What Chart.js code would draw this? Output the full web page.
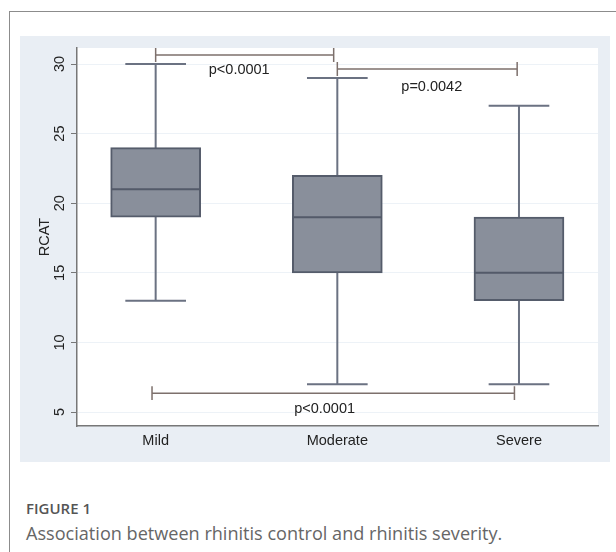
<!DOCTYPE html>
<html>
<head>
<meta charset="utf-8">
<script src="https://cdn.jsdelivr.net/npm/chart.js@4.4.1/dist/chart.umd.min.js"></script>
<style>
  body { margin: 0; background: #fff; width: 616px; height: 552px; overflow: hidden; position: relative; font-family: 'Open Sans', sans-serif; }
  #frame { position: absolute; left: 9px; top: 11px; right: 0; bottom: 0; border-left: 1.5px solid #8c8c8c; border-top: 1.5px solid #8c8c8c; }
  #panel { position: absolute; left: 20px; top: 36px; width: 590px; height: 426px; background: #e9eef4; }
  #fig { position: absolute; left: 26px; top: 501px; font-size: 15px; line-height: 15px; font-weight: 600; color: #555; }
  #caption { position: absolute; left: 26px; top: 524px; font-size: 18.1px; line-height: 18px; color: #666; white-space: nowrap; }
</style>
</head>
<body>
<div id="frame"></div>
<div id="panel"><canvas id="boxChart"></canvas></div>
<div id="fig">FIGURE 1</div>
<div id="caption">Association between rhinitis control and rhinitis severity.</div>
<script>
// values
const categories = ['Mild', 'Moderate', 'Severe'];
const whiskerLow = [13, 7, 7];
const q1 = [19, 15, 13];
const median = [21, 19, 15];
const q3 = [24, 22, 19];
const whiskerHigh = [30, 29, 27];
const yTicks = [5, 10, 15, 20, 25, 30];

// significance brackets (data coords)
const bracketFrom = [1, 2, 0.98];
const bracketTo = [1.98, 2.99, 2.975];
const bracketY = [30.65, 29.64, 6.36];
const pLabels = ['p<0.0001', 'p=0.0042', 'p<0.0001'];
const pLabelX = [1.46, 2.52, 1.93];
const pLabelY = [29.57, 28.33, 5.22];

const capHalf = 0.167;
const boxHalf = 0.245;
const bracketTick = 0.5;

Chart.defaults.font.family = '"Liberation Sans", Arial, sans-serif';

let boxData = [];
let whiskerData = [];
let medianData = [];
categories.forEach((c, i) => {
    let x = i + 1;
    boxData.push({x: x, y: [q1[i], q3[i]]});
    whiskerData.push({x: x, y: whiskerLow[i]}, {x: x, y: whiskerHigh[i]}, {x: x, y: null});
    whiskerData.push({x: x - capHalf, y: whiskerLow[i]}, {x: x + capHalf, y: whiskerLow[i]}, {x: x, y: null});
    whiskerData.push({x: x - capHalf, y: whiskerHigh[i]}, {x: x + capHalf, y: whiskerHigh[i]}, {x: x, y: null});
    medianData.push({x: x - boxHalf, y: median[i]}, {x: x + boxHalf, y: median[i]}, {x: x, y: null});
});

let bracketData = [];
bracketY.forEach((yv, i) => {
    let a = bracketFrom[i], b = bracketTo[i];
    bracketData.push({x: a, y: yv + bracketTick}, {x: a, y: yv - bracketTick}, {x: a, y: null});
    bracketData.push({x: a, y: yv}, {x: b, y: yv}, {x: b, y: null});
    bracketData.push({x: b, y: yv + bracketTick}, {x: b, y: yv - bracketTick}, {x: b, y: null});
});

const decorPlugin = {
    id: 'decor',
    beforeDraw(chart) {
        const {ctx, chartArea: a} = chart;
        ctx.save();
        ctx.fillStyle = '#fff';
        ctx.fillRect(a.left, a.top, a.right - a.left, a.bottom - a.top);
        ctx.restore();
    },
    afterDraw(chart) {
        const {ctx, chartArea: a, scales: {x, y}} = chart;
        ctx.save();
        ctx.fillStyle = '#222';
        ctx.font = '14.5px "Liberation Sans", Arial, sans-serif';
        ctx.textAlign = 'center';
        ctx.textBaseline = 'middle';
        // rotated y tick labels, Stata style
        yTicks.forEach(v => {
            ctx.save();
            ctx.translate(a.left - 17, y.getPixelForValue(v));
            ctx.rotate(-Math.PI / 2);
            ctx.fillText(String(v), 0, 0);
            ctx.restore();
        });
        pLabels.forEach((t, i) => {
            ctx.fillText(t, x.getPixelForValue(pLabelX[i]), y.getPixelForValue(pLabelY[i]));
        });
        ctx.restore();
    }
};

let chart = new Chart(document.getElementById('boxChart'), {
    type: 'bar',
    data: {
        datasets: [
            {
                type: 'line',
                data: medianData,
                borderColor: '#535a69',
                borderWidth: 2,
                pointRadius: 0,
                spanGaps: false,
                order: 1
            },
            {
                type: 'line',
                data: bracketData,
                borderColor: '#7d706c',
                borderWidth: 1.5,
                pointRadius: 0,
                spanGaps: false,
                order: 1
            },
            {
                type: 'bar',
                data: boxData,
                backgroundColor: '#898f9b',
                borderColor: '#555c6b',
                borderWidth: 2,
                borderSkipped: false,
                barThickness: 90,
                order: 2
            },
            {
                type: 'line',
                data: whiskerData,
                borderColor: '#6b7282',
                borderWidth: 2,
                pointRadius: 0,
                spanGaps: false,
                order: 3
            }
        ]
    },
    options: {
        responsive: true,
        maintainAspectRatio: false,
        animation: false,
        devicePixelRatio: 1,
        layout: {padding: {left: 0, right: 12, top: 12, bottom: 0}},
        plugins: {legend: {display: false}, tooltip: {enabled: false}},
        scales: {
            x: {
                type: 'linear',
                offset: false,
                min: 0.567,
                max: 3.435,
                afterBuildTicks: s => { s.ticks = categories.map((c, i) => ({value: i + 1})); },
                afterFit: s => { s.height = 36; },
                ticks: {
                    callback: v => categories[v - 1],
                    font: {size: 14.5},
                    color: '#222',
                    padding: 6,
                    autoSkip: false,
                    maxRotation: 0
                },
                grid: {display: false, drawTicks: false},
                border: {color: '#777', width: 1.5}
            },
            y: {
                min: 4,
                max: 31.15,
                afterBuildTicks: s => { s.ticks = yTicks.map(v => ({value: v})); },
                afterFit: s => { s.width = 57; },
                ticks: {display: false},
                grid: {color: '#edf2f7', tickColor: '#777', tickLength: 6, lineWidth: 1},
                border: {color: '#777', width: 1.5},
                title: {display: true, text: 'RCAT', font: {size: 14.5}, color: '#222', padding: {top: 16.6, bottom: 0}}
            }
        }
    },
    plugins: [decorPlugin]
});
</script>
</body>
</html>
